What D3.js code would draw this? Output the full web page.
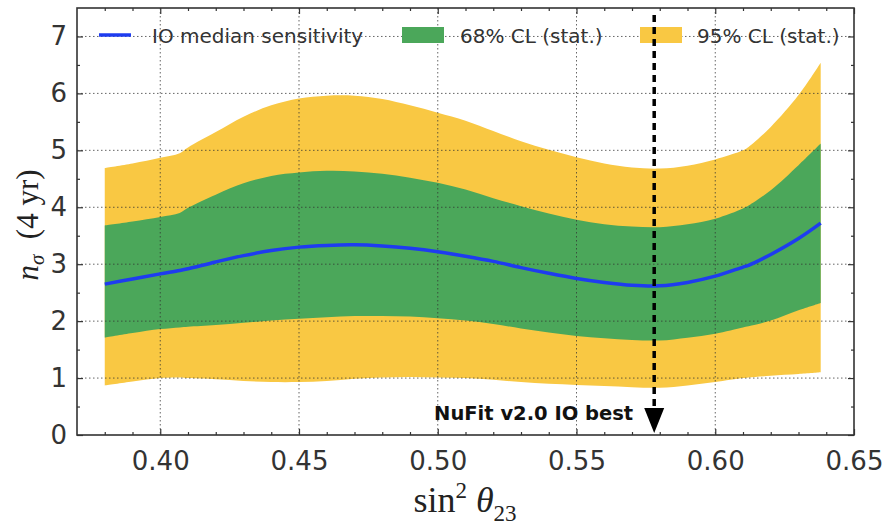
<!DOCTYPE html>
<html>
<head>
<meta charset="utf-8">
<script src="https://cdn.jsdelivr.net/npm/d3@7"></script>
<style>
  html, body { margin: 0; padding: 0; background: #fff; }
  svg { display: block; }
</style>
</head>
<body>
<svg id="chart" width="887" height="525"></svg>
<script>
// ---- data ----
const sin2theta = [0.38,0.39,0.40,0.407,0.41,0.42,0.43,0.44,0.45,0.46,0.47,0.48,0.49,0.50,0.51,0.52,0.53,0.54,0.55,0.56,0.57,0.58,0.59,0.60,0.61,0.612,0.62,0.63,0.638];
const medianSens = [2.65,2.74,2.83,2.89,2.92,3.04,3.15,3.24,3.30,3.33,3.34,3.32,3.28,3.22,3.14,3.05,2.94,2.84,2.75,2.68,2.63,2.62,2.68,2.79,2.95,2.98,3.17,3.45,3.72];
const upper68 = [3.68,3.75,3.83,3.90,3.99,4.22,4.42,4.55,4.61,4.64,4.63,4.59,4.52,4.43,4.31,4.16,4.02,3.89,3.78,3.70,3.66,3.65,3.70,3.80,3.98,4.03,4.30,4.74,5.12];
const lower68 = [1.71,1.79,1.86,1.89,1.90,1.93,1.97,2.01,2.04,2.07,2.09,2.09,2.08,2.05,2.01,1.95,1.87,1.80,1.74,1.70,1.67,1.66,1.71,1.78,1.89,1.91,2.01,2.19,2.32];
const upper95 = [4.69,4.77,4.87,4.95,5.05,5.32,5.59,5.79,5.91,5.96,5.96,5.90,5.79,5.66,5.52,5.34,5.16,5.01,4.88,4.77,4.70,4.68,4.73,4.84,5.00,5.06,5.41,5.97,6.54];
const lower95 = [0.87,0.94,1.00,1.01,1.00,0.98,0.95,0.93,0.93,0.95,0.99,1.01,1.02,1.01,1.00,0.97,0.93,0.90,0.88,0.86,0.84,0.83,0.87,0.93,1.00,1.01,1.04,1.07,1.10];
const bestFit = 0.578;
const xTicks = [0.40,0.45,0.50,0.55,0.60,0.65];
const yTicks = [0,1,2,3,4,5,6,7];
const legendLabels = ["IO median sensitivity","68% CL (stat.)","95% CL (stat.)"];
const annotationText = "NuFit v2.0 IO best";

// ---- layout ----
const svg = d3.select("#chart");
const L = 77, R = 854, T = 8, B = 435;
const x = d3.scaleLinear().domain([0.37, 0.65]).range([L, R]);
const y = d3.scaleLinear().domain([0, 7.5]).range([B, T]);

const pts = sin2theta.map((v, i) => ({x: v, m: medianSens[i], u68: upper68[i], l68: lower68[i], u95: upper95[i], l95: lower95[i]}));
const cYellow = "#f9c843", cGreen = "#4ba75a", cBlue = "#1e3cf0";

// bands
const curve = d3.curveCatmullRom.alpha(0.5);
svg.append("path").datum(pts)
  .attr("fill", cYellow)
  .attr("d", d3.area().curve(curve).x(d => x(d.x)).y0(d => y(d.l95)).y1(d => y(d.u95)));
svg.append("path").datum(pts)
  .attr("fill", cGreen)
  .attr("d", d3.area().curve(curve).x(d => x(d.x)).y0(d => y(d.l68)).y1(d => y(d.u68)));

// grid
const grid = svg.append("g").attr("stroke", "#333").attr("stroke-width", 1)
  .attr("stroke-dasharray", "1.5,2.5").attr("opacity", 0.75);
xTicks.filter(v => v < 0.65).forEach(v => grid.append("line").attr("x1", x(v)).attr("x2", x(v)).attr("y1", T).attr("y2", B));
yTicks.filter(v => v > 0).forEach(v => grid.append("line").attr("x1", L).attr("x2", R).attr("y1", y(v)).attr("y2", y(v)));

// median line
svg.append("path").datum(pts)
  .attr("fill", "none").attr("stroke", cBlue).attr("stroke-width", 3.5)
  .attr("d", d3.line().curve(curve).x(d => x(d.x)).y(d => y(d.m)));

// axes
const tickFont = "DejaVu Sans, sans-serif";
const xMinor = d3.range(38, 65).map(v => v / 100).filter(v => !xTicks.some(t => Math.abs(t - v) < 1e-9));
const yMinor = d3.range(0, 15).map(v => v * 0.5).filter(v => v % 1 !== 0);

function styleAxis(g, labels) {
  g.select(".domain").remove();
  g.selectAll(".tick line").attr("stroke", "#333").attr("stroke-width", 1.2);
  g.selectAll(".tick text").attr("fill", "#333").style("font-family", tickFont).style("font-size", "26px");
  if (!labels) g.selectAll(".tick text").remove();
}
svg.append("g").attr("transform", `translate(0,${B})`)
  .call(d3.axisBottom(x).tickValues(xTicks).tickFormat(d3.format(".2f")).tickSize(-6).tickPadding(17))
  .call(g => styleAxis(g, true));
svg.append("g").attr("transform", `translate(0,${B})`)
  .call(d3.axisBottom(x).tickValues(xMinor).tickSize(-3)).call(g => styleAxis(g, false));
svg.append("g").attr("transform", `translate(0,${T})`)
  .call(d3.axisTop(x).tickValues(xTicks).tickSize(-6)).call(g => styleAxis(g, false));
svg.append("g").attr("transform", `translate(0,${T})`)
  .call(d3.axisTop(x).tickValues(xMinor).tickSize(-3)).call(g => styleAxis(g, false));
svg.append("g").attr("transform", `translate(${L},0)`)
  .call(d3.axisLeft(y).tickValues(yTicks).tickFormat(d3.format("d")).tickSize(-6).tickPadding(10))
  .call(g => styleAxis(g, true));
svg.append("g").attr("transform", `translate(${L},0)`)
  .call(d3.axisLeft(y).tickValues(yMinor).tickSize(-3)).call(g => styleAxis(g, false));
svg.append("g").attr("transform", `translate(${R},0)`)
  .call(d3.axisRight(y).tickValues(yTicks).tickSize(-6)).call(g => styleAxis(g, false));
svg.append("g").attr("transform", `translate(${R},0)`)
  .call(d3.axisRight(y).tickValues(yMinor).tickSize(-3)).call(g => styleAxis(g, false));

// frame
svg.append("rect").attr("x", L).attr("y", T).attr("width", R - L).attr("height", B - T)
  .attr("fill", "none").attr("stroke", "#333").attr("stroke-width", 1.6);

// legend
const lg = svg.append("g").style("font-family", tickFont).style("font-size", "20px").attr("fill", "#333");
lg.append("line").attr("x1", 99).attr("x2", 131).attr("y1", 35).attr("y2", 35).attr("stroke", cBlue).attr("stroke-width", 3.5);
lg.append("text").attr("x", 152).attr("y", 42.5).text(legendLabels[0]);
lg.append("rect").attr("x", 402).attr("y", 27).attr("width", 42).attr("height", 16).attr("fill", cGreen);
lg.append("text").attr("x", 460).attr("y", 42.5).text(legendLabels[1]);
lg.append("rect").attr("x", 640).attr("y", 27).attr("width", 42).attr("height", 16).attr("fill", cYellow);
lg.append("text").attr("x", 697).attr("y", 42.5).text(legendLabels[2]);

// best-fit arrow
const bx = x(bestFit);
svg.append("line").attr("x1", bx).attr("x2", bx).attr("y1", 15).attr("y2", 410)
  .attr("stroke", "#000").attr("stroke-width", 3.5).attr("stroke-dasharray", "7,5");
svg.append("path").attr("d", `M${bx - 10},408 L${bx + 10},408 L${bx},433 Z`).attr("fill", "#000");
svg.append("text").attr("x", bx - 21).attr("y", 420).attr("text-anchor", "end")
  .style("font-family", tickFont).style("font-size", "19.5px").style("font-weight", "bold")
  .attr("fill", "#111").text(annotationText);

// axis labels
const serif = "Liberation Serif, DejaVu Serif, serif";
const xl = svg.append("text").attr("x", 465).attr("y", 512).attr("text-anchor", "middle")
  .style("font-family", serif).style("font-size", "36px").attr("fill", "#222");
xl.append("tspan").text("sin");
xl.append("tspan").attr("dy", -14).style("font-size", "23px").text("2");
xl.append("tspan").attr("dy", 14).text(" ");
xl.append("tspan").style("font-style", "italic").text("θ");
xl.append("tspan").attr("dy", 9).style("font-size", "23px").text("23");

const yl = svg.append("text").attr("transform", "translate(38,225) rotate(-90)").attr("text-anchor", "middle")
  .style("font-family", serif).style("font-size", "31px").attr("fill", "#222");
yl.append("tspan").style("font-style", "italic").text("n");
yl.append("tspan").attr("dy", 6).style("font-style", "italic").style("font-size", "21px").text("σ");
yl.append("tspan").attr("dy", -6).text("\u2002(4 yr)");
</script>
</body>
</html>
